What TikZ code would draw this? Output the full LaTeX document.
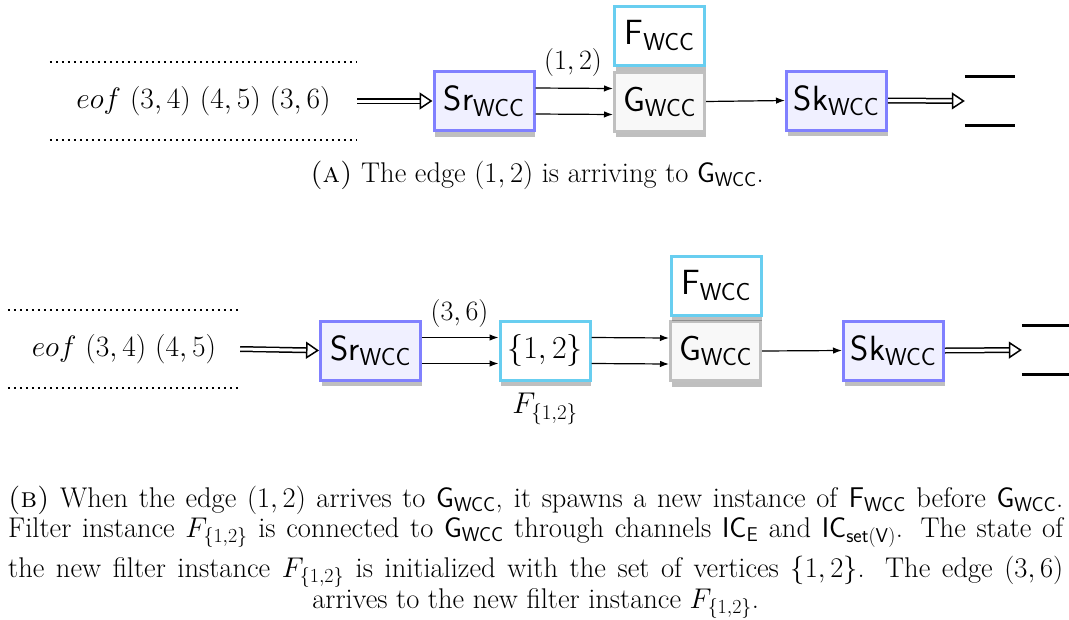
\RequirePackage{fix-cm}
\documentclass[tikz,border=0pt]{standalone}
\usetikzlibrary{arrows.meta,shadows}
\definecolor{srborder}{RGB}{128,128,255}
\definecolor{srfill}{RGB}{240,240,255}
\definecolor{fborder}{RGB}{104,206,240}
\definecolor{gborder}{RGB}{192,192,192}
\definecolor{gfill}{RGB}{248,248,248}
\newcommand{\subsf}[2]{\textsf{#1}$_{\mathsf{#2}}$}
\newcommand{\jline}[1]{\hbox to 1055pt{#1}}
\begin{document}
\begin{tikzpicture}[x=1pt,y=-1pt,
  boxbase/.style={line width=3pt, inner sep=0pt, minimum height=59pt,
    font=\fontsize{35}{40}\selectfont,
    drop shadow={shadow xshift=1pt, shadow yshift=-6pt, fill=black, opacity=0.25}},
  srbox/.style={boxbase, draw=srborder, fill=srfill, minimum width=100pt},
  gbox/.style={boxbase, draw=gborder, fill=gfill, minimum width=90pt},
  fbox/.style={boxbase, draw=fborder, fill=white, minimum width=90pt},
  tape/.style={inner sep=0pt, font=\fontsize{29.5}{34}\selectfont},
  dotline/.style={line width=2.2pt, dash pattern=on 2.2pt off 3.8pt},
  endline/.style={line width=3pt},
  arr/.style={line width=1.2pt, -{Latex[length=9pt,width=6.5pt]}},
  dbl/.style={line width=1.5pt, double distance=3pt, -{Triangle[open,length=13pt,width=17pt,line width=1.5pt]}},
  lab/.style={font=\fontsize{28}{32}\selectfont, inner sep=0pt},
  flab/.style={font=\fontsize{30}{34}\selectfont, inner sep=0pt},
  captext/.style={font=\fontsize{28.5}{31}\selectfont, inner sep=0pt},
  capline/.style={captext, anchor=base west}
]
\useasboundingbox (0,0) rectangle (1069,619);

% ---------- (a) ----------
\node[tape, minimum width=307pt, minimum height=78pt] (tape1) at (203.5,101) {$eof\ (3,4)\ (4,5)\ (3,6)$};
\draw[dotline] (tape1.north west) -- (tape1.north east);
\draw[dotline] (tape1.south west) -- (tape1.south east);
\node[srbox] (sr1) at (484,101) {\subsf{Sr}{WCC}};
\node[gbox] (g1) at (659.5,101.5) {\subsf{G}{WCC}};
\node[fbox] (f1) at (659.5,35.5) {\subsf{F}{WCC}};
\node[srbox] (sk1) at (836.5,100.5) {\subsf{Sk}{WCC}};
\node[inner sep=0pt, minimum width=50pt, minimum height=48pt] (out1) at (990,101) {};
\draw[endline] (out1.north west) -- (out1.north east);
\draw[endline] (out1.south west) -- (out1.south east);
\draw[dbl] (tape1.east) -- (sr1.west);
\draw[arr] ([yshift=13pt]sr1.east) -- ([yshift=13pt]g1.west);
\draw[arr] ([yshift=-13pt]sr1.east) -- ([yshift=-13pt]g1.west);
\node[lab] (l12) at (573,62.5) {$(1,2)$};
\draw[arr] (g1.east) -- (sk1.west);
\draw[dbl] (sk1.east) -- (out1.west);
\node[captext, anchor=base] (capa) at (537,182) {\textsc{(a)} The edge $(1,2)$ is arriving to \subsf{G}{WCC}.};

% ---------- (b) ----------
\node[tape, minimum width=232pt, minimum height=78pt] (tape2) at (124,349) {$eof\ (3,4)\ (4,5)$};
\draw[dotline] (tape2.north west) -- (tape2.north east);
\draw[dotline] (tape2.south west) -- (tape2.south east);
\node[srbox] (sr2) at (370.5,350.5) {\subsf{Sr}{WCC}};
\node[fbox, font=\fontsize{32}{36}\selectfont] (f12) at (545,350.5) {$\{1,2\}$};
\node[gbox] (g2) at (715.5,351) {\subsf{G}{WCC}};
\node[fbox] (f2) at (716,285.5) {\subsf{F}{WCC}};
\node[srbox] (sk2) at (893.5,350.5) {\subsf{Sk}{WCC}};
\node[inner sep=0pt, minimum width=50pt, minimum height=48pt] (out2) at (1047,350) {};
\draw[endline] (out2.north west) -- (out2.north east);
\draw[endline] (out2.south west) -- (out2.south east);
\draw[dbl] (tape2.east) -- (sr2.west);
\draw[arr] ([yshift=13pt]sr2.east) -- ([yshift=13pt]f12.west);
\draw[arr] ([yshift=-13pt]sr2.east) -- ([yshift=-13pt]f12.west);
\node[lab] (l36) at (459.5,313) {$(3,6)$};
\node[flab] (lf12) at (545,409) {$F_{\{1,2\}}$};
\draw[arr] ([yshift=13pt]f12.east) -- ([yshift=13pt]g2.west);
\draw[arr] ([yshift=-13pt]f12.east) -- ([yshift=-13pt]g2.west);
\draw[arr] (g2.east) -- (sk2.west);
\draw[dbl] (sk2.east) -- (out2.west);

\node[capline] (capb1) at (8,507) {\jline{\textsc{(b)} When the edge $(1,2)$ arrives to \subsf{G}{WCC}, it spawns a new instance of \subsf{F}{WCC} before \subsf{G}{WCC}.}};
\node[capline] (capb2) at (8,537) {\jline{Filter instance $F_{\{1,2\}}$ is connected to \subsf{G}{WCC} through channels \subsf{IC}{E} and \subsf{IC}{set(V)}. The state of}};
\node[capline] (capb3) at (8,577) {\jline{the new filter instance $F_{\{1,2\}}$ is initialized with the set of vertices $\{1,2\}$. The edge $(3,6)$}};
\node[capline] (capb4) at (8,608) {\jline{\hfil arrives to the new filter instance $F_{\{1,2\}}$.\hfil}};
\end{tikzpicture}
\end{document}
